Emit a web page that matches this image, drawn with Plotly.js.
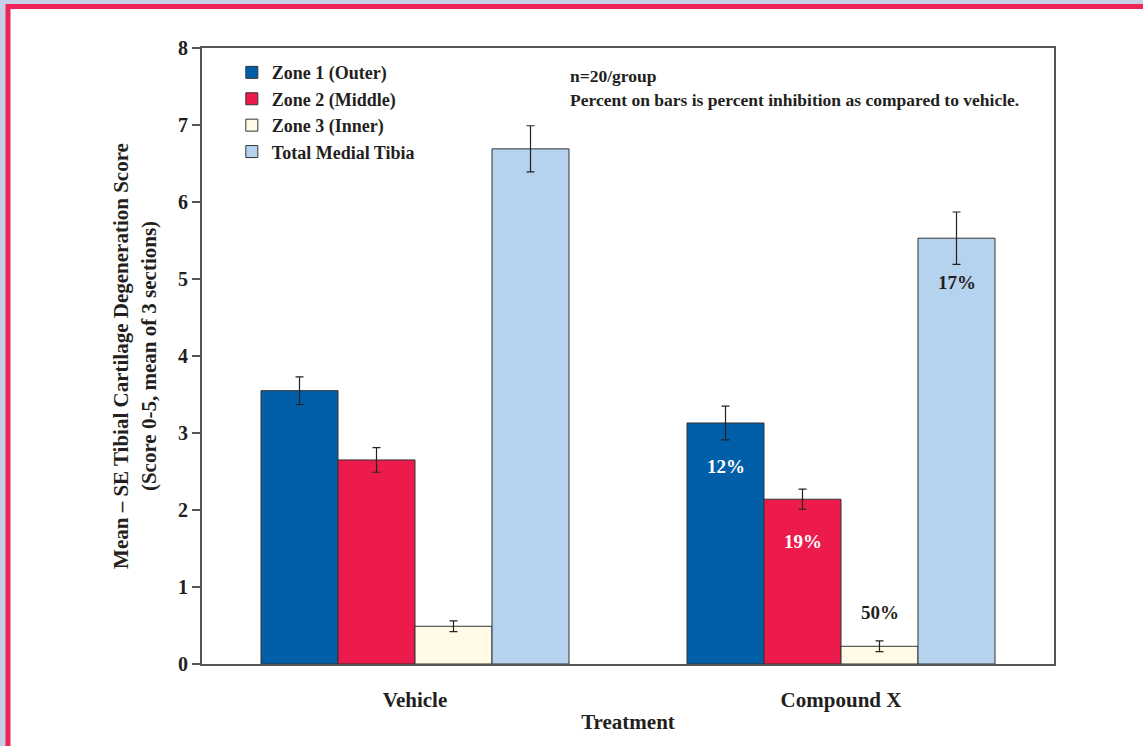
<!DOCTYPE html>
<html>
<head>
<meta charset="utf-8">
<script src="https://cdn.plot.ly/plotly-3.0.1.min.js"></script>
<style>html,body{margin:0;padding:0;background:#fff;}#chart{width:1143px;height:746px;}</style>
</head>
<body>
<div id="chart"></div>
<script>
const categories = ["Vehicle", "Compound X"];
const seriesNames = ["Zone 1 (Outer)", "Zone 2 (Middle)", "Zone 3 (Inner)", "Total Medial Tibia"];
const zone1 = [3.55, 3.13];
const zone2 = [2.65, 2.14];
const zone3 = [0.49, 0.23];
const total = [6.69, 5.53];
const zone1Err = [0.18, 0.22];
const zone2Err = [0.16, 0.13];
const zone3Err = [0.07, 0.07];
const totalErr = [0.30, 0.34];
const percentLabels = ["12%", "19%", "50%", "17%"];
const yTicks = [0, 1, 2, 3, 4, 5, 6, 7, 8];

const colors = ["#005fa8", "#ed1b4b", "#fffbe6", "#b5d2ee"];
const values = [zone1, zone2, zone3, total];
const errs = [zone1Err, zone2Err, zone3Err, totalErr];
const serif = "Liberation Serif, Times New Roman, serif";
const ink = "#231f20";

const traces = values.map((v, i) => ({
  type: "bar",
  name: seriesNames[i],
  x: categories,
  y: v,
  marker: {color: colors[i], line: {color: "#333333", width: 1}},
  error_y: {type: "data", array: errs[i], visible: true, color: "#222222", thickness: 1.2, width: 4},
  hoverinfo: "skip"
}));

const bargap = 0.277;
const barW = (1 - bargap) / 4;
const pctColors = ["#ffffff", "#ffffff", ink, ink];
const pctShift = [-44, -42, 34, -44];
const annotations = percentLabels.map((t, i) => ({
  xref: "x", yref: "y",
  x: 1 - (1 - bargap) / 2 + barW * (i + 0.5),
  y: values[i][1],
  yshift: pctShift[i],
  text: t, showarrow: false,
  font: {family: serif, size: 19, color: pctColors[i], weight: "bold"}
}));
annotations.push({
  xref: "paper", yref: "paper", x: 0.43, y: (664 - 76) / 616, xanchor: "left", yanchor: "middle",
  text: "n=20/group", showarrow: false,
  font: {family: serif, size: 17.5, color: ink, weight: "bold"}
});
annotations.push({
  xref: "paper", yref: "paper", x: 0.43, y: (664 - 100) / 616, xanchor: "left", yanchor: "middle",
  text: "Percent on bars is percent inhibition as compared to vehicle.", showarrow: false,
  font: {family: serif, size: 17.5, color: ink, weight: "bold"}
});

const layout = {
  width: 1143, height: 746,
  margin: {l: 202, r: 89, t: 48, b: 82},
  paper_bgcolor: "#c6d1e8",
  plot_bgcolor: "#ffffff",
  barmode: "group",
  bargap: bargap,
  bargroupgap: 0,
  showlegend: true,
  legend: {
    x: 0.035, y: 0.99, xanchor: "left", yanchor: "top",
    bgcolor: "rgba(0,0,0,0)", tracegroupgap: 0, itemwidth: 30,
    font: {family: serif, size: 18, color: ink, weight: "bold"}
  },
  xaxis: {
    type: "category",
    range: [-0.5, 1.5],
    showline: true, linecolor: "#555555", linewidth: 2, mirror: true,
    ticks: "outside", ticklen: 16, tickcolor: "rgba(0,0,0,0)",
    showgrid: false, zeroline: false,
    tickfont: {family: serif, size: 21, color: ink, weight: "bold"},
    title: {text: "Treatment", standoff: 3, font: {family: serif, size: 21, color: ink, weight: "bold"}}
  },
  yaxis: {
    range: [0, 8], tickvals: yTicks,
    showline: true, linecolor: "#555555", linewidth: 2, mirror: true,
    ticks: "outside", ticklen: 8, tickcolor: "#555555", tickwidth: 1.5,
    showgrid: false, zeroline: false,
    tickfont: {family: serif, size: 20, color: ink, weight: "bold"},
    title: {
      text: "Mean – SE Tibial Cartilage Degeneration Score<br>(Score 0-5, mean of 3 sections)",
      standoff: 16,
      font: {family: serif, size: 21, color: ink, weight: "bold"}
    }
  },
  annotations: annotations,
  shapes: [{
    type: "rect", xref: "paper", yref: "paper", layer: "below",
    x0: (8 - 202) / 852, x1: 1.5,
    y0: -0.5, y1: (664 - 6.5) / 616,
    fillcolor: "#ffffff", line: {color: "#ee2457", width: 5}
  }]
};

Plotly.newPlot("chart", traces, layout, {displayModeBar: false, staticPlot: true});
</script>
</body>
</html>
